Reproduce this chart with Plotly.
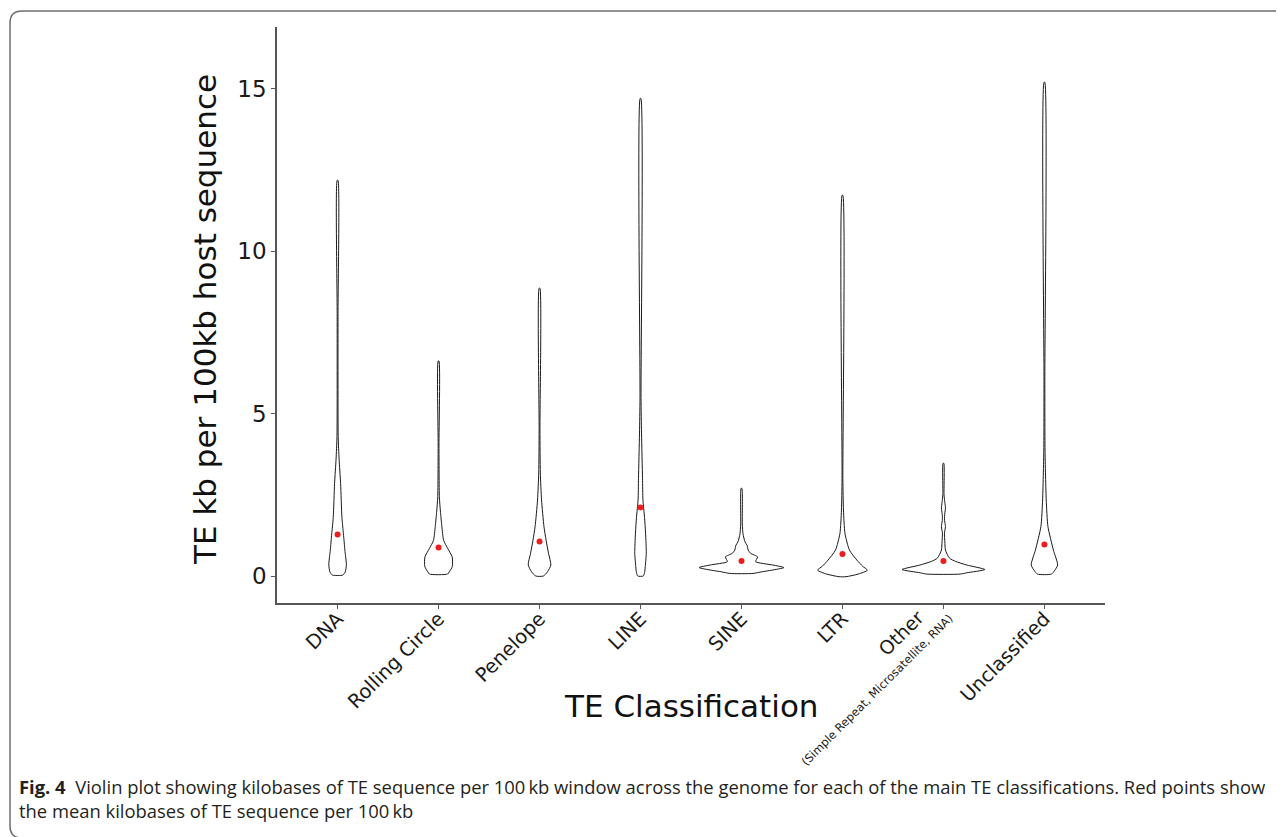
import plotly.graph_objects as go

categories = ["DNA", "Rolling Circle", "Penelope", "LINE", "SINE", "LTR", "Other", "Unclassified"]
tick_labels = ["DNA", "Rolling Circle", "Penelope", "LINE", "SINE", "LTR", "", "Unclassified"]
other_label = "Other"
other_sub = "(Simple Repeat, Microsatellite, RNA)"
means = [1.28, 0.88, 1.06, 2.11, 0.46, 0.68, 0.46, 0.97]

# violin outlines: y levels (kb) and half-widths (category units)
dna_y = [0.03, 0.12, 0.34, 0.8, 1.3, 1.8, 2.85, 3.6, 4.3, 8.0, 12.18]
dna_w = [0.052, 0.075, 0.087, 0.072, 0.058, 0.043, 0.030, 0.015, 0.006, 0.004, 0.004]
rc_y = [0.06, 0.13, 0.29, 0.59, 0.85, 1.1, 1.52, 2.0, 2.44, 4.0, 6.62]
rc_w = [0.089, 0.107, 0.136, 0.135, 0.09, 0.05, 0.033, 0.018, 0.008, 0.004, 0.004]
pen_y = [0.0, 0.13, 0.34, 0.7, 1.1, 1.52, 2.34, 3.17, 4.5, 8.86]
pen_w = [0.037, 0.079, 0.112, 0.089, 0.065, 0.044, 0.020, 0.008, 0.004, 0.004]
line_y = [0.0, 0.1, 0.29, 0.7, 1.32, 1.8, 2.34, 3.0, 4.4, 5.5, 14.7]
line_w = [0.027, 0.040, 0.047, 0.057, 0.050, 0.040, 0.024, 0.020, 0.010, 0.005, 0.004]
sine_y = [0.08, 0.13, 0.18, 0.26, 0.34, 0.44, 0.52, 0.59, 0.7, 0.8, 0.95, 1.05, 1.3, 1.6, 2.7]
sine_w = [0.115, 0.2, 0.30, 0.42, 0.31, 0.14, 0.15, 0.16, 0.09, 0.066, 0.055, 0.035, 0.015, 0.008, 0.004]
ltr_y = [-0.02, 0.06, 0.18, 0.3, 0.49, 0.8, 1.31, 2.03, 3.0, 11.72]
ltr_w = [0.035, 0.156, 0.247, 0.2, 0.143, 0.069, 0.025, 0.01, 0.004, 0.004]
oth_y = [0.06, 0.1, 0.2, 0.34, 0.45, 0.55, 0.8, 1.05, 1.32, 1.52, 1.7, 1.83, 2.1, 2.24, 2.5, 3.47]
oth_w = [0.165, 0.23, 0.41, 0.23, 0.12, 0.06, 0.02, 0.014, 0.01, 0.02, 0.012, 0.01, 0.02, 0.015, 0.006, 0.004]
unc_y = [0.06, 0.16, 0.34, 0.8, 1.52, 2.34, 3.88, 6.0, 15.2]
unc_w = [0.069, 0.099, 0.131, 0.089, 0.035, 0.018, 0.006, 0.004, 0.004]

profiles = [(dna_y, dna_w), (rc_y, rc_w), (pen_y, pen_w), (line_y, line_w),
            (sine_y, sine_w), (ltr_y, ltr_w), (oth_y, oth_w), (unc_y, unc_w)]

fig = go.Figure()
positions = list(range(1, len(categories) + 1))
for pos, cat, (ys, ws) in zip(positions, categories, profiles):
    xr = [pos + w for w in ws]
    xl = [pos - w for w in reversed(ws)]
    xs = xr + xl + [xr[0]]
    yy = list(ys) + list(reversed(ys)) + [ys[0]]
    fig.add_trace(go.Scatter(x=xs, y=yy, mode="lines", name=cat,
                             line=dict(color="#1a1a1a", width=1, shape="spline", smoothing=0.6),
                             hoverinfo="skip", showlegend=False))

fig.add_trace(go.Scatter(x=positions, y=means, mode="markers",
                         marker=dict(color="#ee1c1c", size=6), showlegend=False))

# page body has an 8px margin, so the figure is 8px smaller and coordinates shift by 8
OFF = 8
W, H = 1284 - OFF, 837 - OFF
L, R, T, B = 277 - OFF, 1105 - OFF, 27 - OFF, 603 - OFF
pw, ph = R - L, B - T

def px(x):
    return (x - OFF - L) / pw

def py(y):
    return (B - (y - OFF)) / ph

r = 12
border = (f"M {px(1300)},{py(11)} L {px(10 + r)},{py(11)} "
          f"Q {px(10)},{py(11)} {px(10)},{py(11 + r)} "
          f"L {px(10)},{py(826)} Q {px(10)},{py(838)} {px(10 + r)},{py(838)} "
          f"L {px(1300)},{py(838)}")

fig.update_layout(
    width=W, height=H,
    margin=dict(l=L, r=W - R, t=T, b=H - B),
    paper_bgcolor="white", plot_bgcolor="white",
    font=dict(family="DejaVu Sans", color="#1a1a1a"),
    xaxis=dict(range=[0.4, 8.6], tickvals=positions, ticktext=tick_labels,
               tickangle=-45, tickfont=dict(size=19.5, color="#1a1a1a", family="DejaVu Sans"),
               ticklabelstandoff=-9,
               showgrid=False, zeroline=False, showline=True, linecolor="#555555",
               linewidth=1.5, ticks="outside", ticklen=4, tickcolor="#555555"),
    yaxis=dict(range=[-0.83, 16.9], tickvals=[0, 5, 10, 15],
               tickfont=dict(size=23, color="#1a1a1a", family="DejaVu Sans"),
               showgrid=False, zeroline=False, showline=True, linecolor="#555555",
               linewidth=1.5, ticks="outside", ticklen=4, tickcolor="#555555"),
    shapes=[dict(type="path", path=border, xref="paper", yref="paper",
                 line=dict(color="#6e6e6e", width=1.5))],
    annotations=[
        dict(text="TE kb per 100kb host sequence", textangle=-90, x=px(205), y=py(320),
             xref="paper", yref="paper", showarrow=False,
             font=dict(size=31, color="#111111", family="DejaVu Sans"),
             xanchor="center", yanchor="middle"),
        dict(text="TE Classification", x=px(691), y=py(706), xref="paper", yref="paper",
             showarrow=False, font=dict(size=31, color="#111111", family="DejaVu Sans"),
             xanchor="center", yanchor="middle"),
        dict(text=other_label, textangle=-45, x=px(901), y=py(633), xref="paper", yref="paper",
             showarrow=False, font=dict(size=19, color="#1a1a1a", family="DejaVu Sans"),
             xanchor="center", yanchor="middle"),
        dict(text=other_sub, textangle=-45, x=px(877), y=py(690), xref="paper", yref="paper",
             showarrow=False, font=dict(size=11.5, color="#1a1a1a", family="DejaVu Sans"),
             xanchor="center", yanchor="middle"),
        dict(text="<b>Fig. 4</b>  Violin plot showing kilobases of TE sequence per 100\u2009kb window across the genome for each of the main TE classifications. Red points show<br>the mean kilobases of TE sequence per 100\u2009kb",
             x=px(17), y=py(772), xref="paper", yref="paper", showarrow=False, align="left",
             xanchor="left", yanchor="top", font=dict(size=18.4, family="Open Sans", color="#231f20")),
    ],
)

fig.write_html("out.html")
